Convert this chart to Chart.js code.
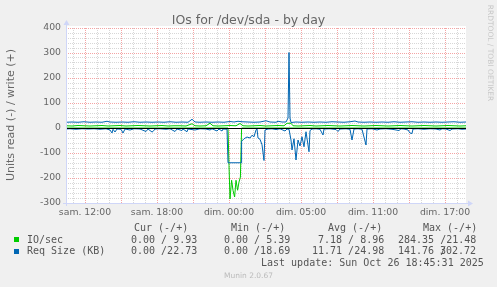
<!DOCTYPE html>
<html>
<head>
<meta charset="utf-8">
<script src="https://cdn.jsdelivr.net/npm/chart.js@4.4.0/dist/chart.umd.min.js"></script>
<style>
  html, body { margin: 0; padding: 0; background: #f0f0f0; }
  #wrap { position: relative; width: 497px; height: 287px; overflow: hidden; }
  canvas { position: absolute; left: 0; top: 0; }
  .t { position: absolute; white-space: pre; color: #666; font-family: "DejaVu Sans"; }
  .m { position: absolute; white-space: pre; font-family: "DejaVu Sans Mono"; font-size: 10px; line-height: 12px; color: #555; }
  .sw { position: absolute; width: 5px; height: 5px; }
</style>
</head>
<body>
<div id="wrap">
  <canvas id="c" width="497" height="287"></canvas>
  <div class="t" style="left:0;width:497px;text-align:center;top:12px;font-size:12.5px;line-height:15px">IOs for /dev/sda - by day</div>
  <div class="t" style="left:-89px;top:108px;width:200px;text-align:center;font-size:11px;line-height:14px;transform:rotate(-90deg)">Units read (-) / write (+)</div>
  <div class="t" style="left:440px;top:48px;width:100px;text-align:center;font-size:7.5px;line-height:10px;color:#c8c8c8;transform:rotate(90deg)">RRDTOOL / TOBI OETIKER</div>

  <div class="m" style="left:134px;top:222px">Cur (-/+)</div>
  <div class="m" style="left:231px;top:222px">Min (-/+)</div>
  <div class="m" style="left:328px;top:222px">Avg (-/+)</div>
  <div class="m" style="left:423px;top:222px">Max (-/+)</div>

  <div class="sw" style="left:14px;top:237px;background:#00cc00"></div>
  <div class="m" style="left:27px;top:234px">IO/sec</div>
  <div class="m" style="left:131px;top:234px">0.00 / 9.93</div>
  <div class="m" style="left:224px;top:234px">0.00 / 5.39</div>
  <div class="m" style="left:318px;top:234px">7.18 / 8.96</div>
  <div class="m" style="left:398px;top:234px">284.35 /21.48</div>

  <div class="sw" style="left:14px;top:249px;background:#0066b3"></div>
  <div class="m" style="left:27px;top:245px">Req Size (KB)</div>
  <div class="m" style="left:131px;top:245px">0.00 /22.73</div>
  <div class="m" style="left:224px;top:245px">0.00 /18.69</div>
  <div class="m" style="left:312px;top:245px">11.71 /24.98</div>
  <div class="m" style="left:398px;top:245px">141.76 /</div>
  <div class="m" style="left:440px;top:245px">302.72</div>

  <div class="m" style="left:261px;top:257px">Last update: Sun Oct 26 18:45:31 2025</div>
  <div class="t" style="left:0;width:497px;text-align:center;top:271px;font-size:7.5px;line-height:10px;color:#bbb">Munin 2.0.67</div>
</div>
<script>
// time in minutes relative to "sam. 12:00"
const tickMinutes = [0, 360, 720, 1080, 1440, 1800];
const tickLabels = ['sam. 12:00', 'sam. 18:00', 'dim. 00:00', 'dim. 05:00', 'dim. 11:00', 'dim. 17:00'];
const yLabels = [-300, -200, -100, 0, 100, 200, 300, 400];

// IO/sec write (+)
const ioWriteT = [-95,-65,-35,-5,25,55,85,115,145,175,205,235,265,295,325,355,385,415,445,475,505,535,550,575,605,625,640,665,695,725,755,775,790,815,845,875,905,935,965,995,1010,1030,1040,1065,1095,1125,1155,1185,1215,1245,1275,1305,1335,1365,1395,1425,1455,1485,1515,1545,1575,1605,1635,1665,1695,1725,1755,1785,1815,1845,1875,1905];
const ioWrite = [9,8,10,9,8,9,10,8,9,10,8,9,10,9,8,9,10,8,9,9,8,17,9,8,9,19,9,8,9,10,9,18,9,8,9,10,8,9,10,9,19,19,9,8,9,10,8,9,10,9,8,9,10,9,8,9,10,9,8,9,10,9,8,9,10,9,8,9,10,9,8,9];

// IO/sec read (-)
const ioReadT = [-95,715,720,725,733,740,748,755,763,770,777,783,1905];
const ioRead = [0,0,-150,-284,-209,-249,-276,-209,-249,-216,-196,0,0];

// Req Size (KB) write (+)
const reqWriteT = [-95,-65,-35,-5,25,55,85,110,125,155,185,215,245,275,305,335,365,395,425,455,485,515,535,550,575,605,635,665,695,725,745,765,785,815,845,875,905,925,955,965,985,1005,1015,1020,1025,1030,1055,1085,1115,1145,1175,1205,1235,1265,1295,1325,1350,1365,1395,1425,1455,1485,1515,1545,1575,1605,1635,1665,1695,1725,1755,1785,1815,1845,1875,1905];
const reqWrite = [23,24,23,25,23,24,23,27,24,23,24,23,25,23,24,23,24,23,25,23,24,23,35,24,23,24,23,24,23,26,24,27,25,24,23,24,29,24,23,27,24,24,40,302,40,22,24,23,24,23,24,23,25,24,23,25,28,24,23,24,23,24,23,25,23,24,25,23,24,23,24,23,24,25,23,24];

// Req Size (KB) read (-)
const reqReadT = [-95,-75,-45,-15,15,45,75,105,125,135,140,150,160,180,190,200,225,245,275,305,315,335,340,350,375,405,425,450,460,485,490,510,515,550,575,605,625,635,660,670,685,690,710,715,780,783,795,810,825,835,845,855,860,865,875,885,895,900,915,935,955,975,1000,1010,1020,1030,1035,1045,1055,1065,1075,1085,1095,1105,1120,1125,1135,1155,1175,1190,1195,1225,1255,1265,1275,1305,1325,1335,1345,1365,1385,1405,1410,1435,1460,1475,1505,1535,1570,1580,1595,1615,1625,1635,1640,1665,1695,1725,1755,1775,1785,1805,1825,1835,1865,1885,1905];
const reqRead = [-4,-3,-5,-3,-4,-3,-5,-3,-8,-20,-5,-16,-4,-5,-20,-4,-8,-3,-4,-14,-4,-16,-14,-4,-3,-5,-3,-14,-4,-10,-4,-15,-4,-8,-3,-4,-8,-3,-12,-4,-12,-4,-5,-139,-139,-53,-43,-36,-40,-29,-35,-8,-3,-40,-45,-67,-130,-8,-4,-3,-6,-3,-12,-4,-5,-48,-88,-43,-128,-48,-72,-35,-75,-15,-95,-10,-4,-3,-5,-28,-4,-3,-6,-14,-4,-3,-5,-48,-4,-3,-5,-68,-4,-3,-8,-4,-3,-5,-10,-3,-4,-8,-20,-22,-4,-3,-5,-3,-4,-8,-3,-4,-10,-4,-3,-5,-4];

const GREEN = '#00cc00';
const BLUE = '#0066b3';
const MAJOR = 'rgba(235,90,90,0.55)';
const MINOR = 'rgba(150,150,150,0.38)';
const AXIS = '#cfd6f8';

const pts = (t, v) => t.map((x, i) => ({ x: x, y: v[i] }));

const hourGrid = [];
for (let m = -60; m <= 1860; m += 60) hourGrid.push(m);
const yGrid = [];
for (let v = -300; v <= 400; v += 20) yGrid.push(v);

const munin = {
  id: 'munin',
  beforeDraw(chart) {
    const { ctx, chartArea: a } = chart;
    ctx.save();
    ctx.fillStyle = '#ffffff';
    ctx.fillRect(a.left, a.top - 2, a.right - a.left, a.bottom - a.top + 2);
    ctx.restore();
  },
  afterDatasetsDraw(chart) {
    const { ctx, chartArea: a, scales } = chart;
    const y0 = Math.round(scales.y.getPixelForValue(0)) + 0.5;
    ctx.save();
    ctx.strokeStyle = '#000';
    ctx.lineWidth = 1;
    ctx.beginPath();
    ctx.moveTo(a.left, y0);
    ctx.lineTo(a.right, y0);
    ctx.stroke();

    // axes with arrows
    const xl = a.left + 0.5, yb = a.bottom + 0.5;
    ctx.strokeStyle = AXIS;
    ctx.fillStyle = AXIS;
    ctx.beginPath();
    ctx.moveTo(xl, a.bottom + 3);
    ctx.lineTo(xl, a.top - 4);
    ctx.moveTo(a.left - 3, yb);
    ctx.lineTo(a.right + 2, yb);
    ctx.stroke();
    ctx.beginPath();
    ctx.moveTo(xl, a.top - 8);
    ctx.lineTo(xl - 3, a.top - 3);
    ctx.lineTo(xl + 3, a.top - 3);
    ctx.closePath();
    ctx.fill();
    ctx.beginPath();
    ctx.moveTo(a.right + 7, yb);
    ctx.lineTo(a.right + 2, yb - 3);
    ctx.lineTo(a.right + 2, yb + 3);
    ctx.closePath();
    ctx.fill();
    ctx.restore();
  }
};

const line = (label, data, color) => ({
  label: label,
  data: data,
  borderColor: color,
  borderWidth: 1,
  pointRadius: 0,
  tension: 0,
  fill: false
});

new Chart(document.getElementById('c'), {
  type: 'line',
  data: {
    datasets: [
      line('Req Size (KB) write', pts(reqWriteT, reqWrite), BLUE),
      line('Req Size (KB) read', pts(reqReadT, reqRead), BLUE),
      line('IO/sec write', pts(ioWriteT, ioWrite), GREEN),
      line('IO/sec read', pts(ioReadT, ioRead), GREEN)
    ]
  },
  options: {
    responsive: false,
    animation: false,
    layout: { padding: { top: 28, right: 31, bottom: 0, left: 0 } },
    plugins: { legend: { display: false }, tooltip: { enabled: false }, title: { display: false } },
    scales: {
      x: {
        type: 'linear',
        min: -95,
        max: 1905,
        afterBuildTicks: s => { s.ticks = hourGrid.map(v => ({ value: v })); },
        afterFit: s => { s.height = 84; },
        border: { display: false, dash: [1, 1] },
        grid: {
          drawTicks: false,
          color: c => (c.tick && c.tick.value % 180 === 0 ? MAJOR : MINOR)
        },
        ticks: {
          autoSkip: false,
          maxRotation: 0,
          padding: 4,
          color: '#666',
          font: { family: 'DejaVu Sans', size: 9.3 },
          callback: v => {
            const i = tickMinutes.indexOf(v);
            return i >= 0 ? tickLabels[i] : '';
          }
        }
      },
      y: {
        min: -300,
        max: 400,
        afterBuildTicks: s => { s.ticks = yGrid.map(v => ({ value: v })); },
        afterFit: s => { s.width = 66; },
        border: { display: false, dash: [1, 1] },
        grid: {
          drawTicks: false,
          color: c => (c.tick && c.tick.value % 100 === 0 ? MAJOR : MINOR)
        },
        ticks: {
          autoSkip: false,
          padding: 5,
          color: '#666',
          font: { family: 'DejaVu Sans', size: 9.3 },
          callback: v => (yLabels.includes(v) ? String(v) : '')
        }
      }
    }
  },
  plugins: [munin]
});
</script>
</body>
</html>
